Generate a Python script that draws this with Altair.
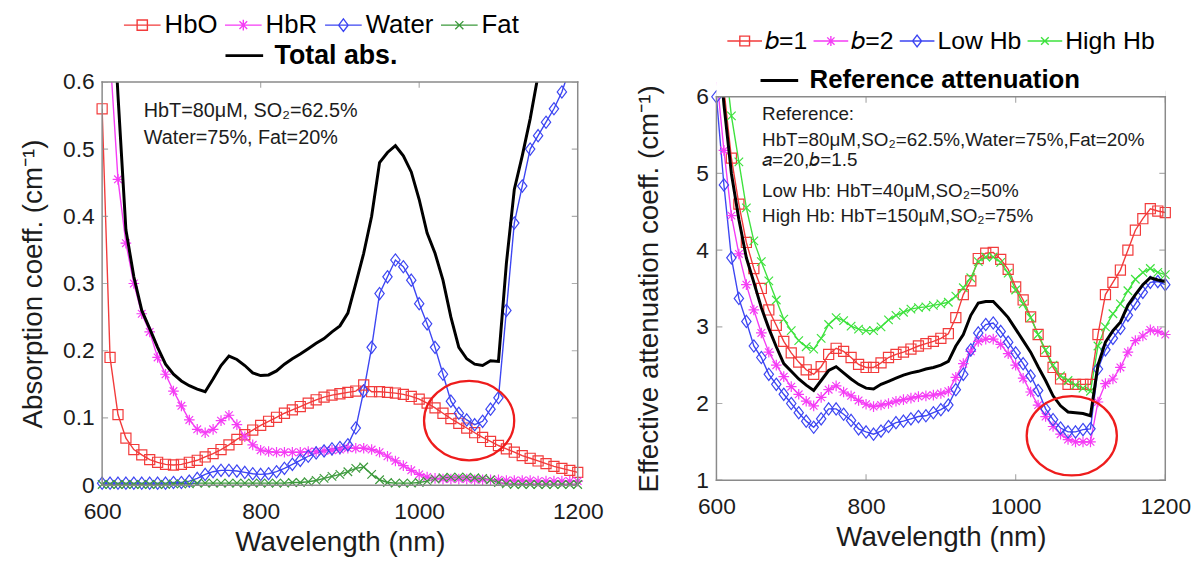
import altair as alt
import pandas as pd

# ---------------- data ----------------
WL = list(range(600, 1201, 10))

HBO = [0.56, 0.19, 0.105, 0.07, 0.053, 0.045, 0.038, 0.034, 0.031, 0.030,
       0.031, 0.034, 0.037, 0.042, 0.047, 0.053, 0.060, 0.068, 0.075, 0.082,
       0.089, 0.095, 0.101, 0.107, 0.112, 0.117, 0.122, 0.127, 0.131, 0.134,
       0.136, 0.138, 0.140, 0.149, 0.139, 0.139, 0.138, 0.137, 0.135, 0.132,
       0.128, 0.122, 0.115, 0.107, 0.099, 0.092, 0.085, 0.078, 0.071, 0.065,
       0.059, 0.054, 0.049, 0.044, 0.040, 0.036, 0.032, 0.028, 0.025, 0.022, 0.019]
HBR = [0.95, 0.64, 0.455, 0.36, 0.30, 0.255, 0.228, 0.19, 0.165, 0.14,
       0.118, 0.097, 0.083, 0.078, 0.083, 0.096, 0.104, 0.090, 0.072, 0.060,
       0.052, 0.050, 0.049, 0.049, 0.049, 0.049, 0.050, 0.050, 0.051, 0.052,
       0.053, 0.055, 0.055, 0.055, 0.053, 0.049, 0.043, 0.036, 0.029, 0.022,
       0.016, 0.012, 0.010, 0.009, 0.009, 0.009, 0.009, 0.008, 0.008, 0.008,
       0.008, 0.007, 0.007, 0.007, 0.007, 0.006, 0.006, 0.006, 0.006, 0.006, 0.006]
WATER = [0.003, 0.003, 0.003, 0.003, 0.003, 0.003, 0.003, 0.003, 0.003, 0.004,
         0.004, 0.006, 0.010, 0.016, 0.020, 0.022, 0.022, 0.021, 0.019, 0.017,
         0.016, 0.017, 0.020, 0.025, 0.031, 0.037, 0.043, 0.048, 0.051, 0.054,
         0.056, 0.060, 0.085, 0.14, 0.205, 0.285, 0.31, 0.335, 0.325, 0.305,
         0.27, 0.24, 0.205, 0.165, 0.125, 0.107, 0.097, 0.09, 0.095, 0.113,
         0.13, 0.26, 0.39, 0.445, 0.50, 0.52, 0.54, 0.56, 0.585, 0.62, 0.66]
FAT = [0.001, 0.001, 0.001, 0.001, 0.001, 0.001, 0.001, 0.001, 0.001, 0.002,
       0.002, 0.002, 0.003, 0.003, 0.003, 0.003, 0.003, 0.003, 0.003, 0.003,
       0.003, 0.003, 0.003, 0.003, 0.004, 0.004, 0.005, 0.007, 0.010, 0.013,
       0.016, 0.020, 0.025, 0.027, 0.016, 0.008, 0.004, 0.003, 0.003, 0.003,
       0.004, 0.006, 0.009, 0.011, 0.012, 0.012, 0.012, 0.011, 0.010, 0.008,
       0.004, 0.002, 0.001, 0.001, 0.001, 0.001, 0.001, 0.001, 0.001, 0.001, 0.001]
TOTAL = [1.0, 0.8, 0.58, 0.38, 0.31, 0.26, 0.233, 0.205, 0.18, 0.165,
         0.155, 0.148, 0.143, 0.139, 0.158, 0.178, 0.192, 0.187, 0.178, 0.167,
         0.163, 0.164, 0.170, 0.180, 0.188, 0.195, 0.203, 0.211, 0.218, 0.228,
         0.237, 0.256, 0.30, 0.345, 0.40, 0.48, 0.495, 0.505, 0.49, 0.466,
         0.425, 0.375, 0.345, 0.305, 0.25, 0.205, 0.188, 0.180, 0.178, 0.185,
         0.184, 0.33, 0.44, 0.49, 0.545, 0.61, 0.70, 0.75, 0.80, 0.85, 0.90]

B1 = [7.5, 6.1, 5.2, 4.6, 4.1, 3.76, 3.5, 3.22, 3.02, 2.81,
      2.66, 2.54, 2.44, 2.38, 2.48, 2.64, 2.72, 2.68, 2.6, 2.51,
      2.47, 2.47, 2.53, 2.6, 2.64, 2.67, 2.71, 2.75, 2.78, 2.81,
      2.85, 2.91, 3.12, 3.42, 3.6, 3.89, 3.96, 3.97, 3.88, 3.75,
      3.52, 3.35, 3.13, 2.9, 2.68, 2.47, 2.32, 2.25, 2.25, 2.25,
      2.25, 2.9, 3.42, 3.58, 3.74, 4.0, 4.26, 4.41, 4.54, 4.51, 4.49]
B2 = [6.3, 5.3, 4.45, 3.95, 3.55, 3.22, 2.92, 2.67, 2.5, 2.35,
      2.22, 2.12, 2.03, 1.97, 2.08, 2.18, 2.23, 2.15, 2.1, 2.04,
      1.99, 1.96, 1.98, 2.0, 2.03, 2.05, 2.07, 2.09, 2.1, 2.11,
      2.13, 2.16, 2.34, 2.52, 2.68, 2.81, 2.84, 2.84, 2.77, 2.65,
      2.5, 2.33, 2.15, 1.98, 1.83, 1.7, 1.6, 1.53, 1.5, 1.5,
      1.5, 2.02, 2.26, 2.32, 2.47, 2.67, 2.82, 2.88, 2.96, 2.94, 2.9]
LOW_HB = [6.0, 4.85, 3.9, 3.37, 3.07, 2.75, 2.6, 2.38, 2.25, 2.12,
          2.0, 1.88, 1.77, 1.69, 1.8, 1.93, 1.93, 1.86, 1.78, 1.67,
          1.63, 1.6, 1.64, 1.7, 1.75, 1.77, 1.8, 1.83, 1.84, 1.88,
          1.92, 1.98, 2.18, 2.38, 2.7, 2.92, 3.03, 3.05, 2.94, 2.8,
          2.66, 2.52, 2.36, 2.17, 1.93, 1.79, 1.68, 1.63, 1.63, 1.66,
          1.67, 2.45, 2.7, 2.85, 2.98, 3.15, 3.3, 3.45, 3.58, 3.59, 3.55]
HIGH_HB = [8.0, 6.6, 5.75, 5.15, 4.55, 4.12, 3.85, 3.6, 3.35, 3.1,
           2.95, 2.82, 2.74, 2.71, 2.85, 3.03, 3.12, 3.08, 3.01, 2.97,
           2.95, 2.95, 3.0, 3.09, 3.15, 3.19, 3.23, 3.25, 3.26, 3.28,
           3.3, 3.32, 3.4, 3.51, 3.64, 3.85, 3.91, 3.91, 3.84, 3.7,
           3.48, 3.3, 3.12, 2.9, 2.7, 2.5, 2.36, 2.3, 2.24, 2.2,
           2.16, 2.75, 3.0, 3.17, 3.3, 3.47, 3.62, 3.71, 3.76, 3.71, 3.68]
REF = [7.0, 5.9, 5.0, 4.4, 3.9, 3.58, 3.25, 2.98, 2.74, 2.52,
       2.42, 2.32, 2.24, 2.17, 2.3, 2.43, 2.48, 2.4, 2.32, 2.25,
       2.2, 2.19, 2.25, 2.29, 2.33, 2.37, 2.4, 2.42, 2.45, 2.47,
       2.5, 2.55, 2.75, 2.9, 3.15, 3.31, 3.33, 3.33, 3.23, 3.12,
       2.97, 2.82, 2.67, 2.48, 2.3, 2.1, 1.97, 1.89, 1.88, 1.87,
       1.84, 2.5, 2.8, 2.95, 3.06, 3.28, 3.42, 3.55, 3.64, 3.61, 3.59]

X_TICKS = [600, 800, 1000, 1200]
XLIM = [600, 1200]
LEFT_Y_TICKS = [0, 0.1, 0.2, 0.3, 0.4, 0.5, 0.6]
LEFT_YLIM = [0, 0.6]
RIGHT_Y_TICKS = [1, 2, 3, 4, 5, 6]
RIGHT_YLIM = [1, 6]

LEFT_NAMES = ["HbO", "HbR", "Water", "Fat"]
RIGHT_NAMES = ["\U0001D44F=1", "\U0001D44F=2", "Low Hb", "High Hb"]
LEFT_TOTAL = "Total abs."
RIGHT_TOTAL = "Reference attenuation"

LEFT_NOTES = ["HbT=80\u03bcM, SO\u2082=62.5%", "Water=75%, Fat=20%"]
LEFT_NOTE_X = [652.5, 652.5]
LEFT_NOTE_Y = [0.556, 0.516]
RIGHT_NOTES = ["Reference:",
               "HbT=80\u03bcM,SO\u2082=62.5%,Water=75%,Fat=20%",
               "\U0001D44E=20,\U0001D44F=1.5",
               "Low Hb: HbT=40\u03bcM,SO\u2082=50%",
               "High Hb: HbT=150\u03bcM,SO\u2082=75%"]
RIGHT_NOTE_X = [661, 661, 661, 661, 661]
RIGHT_NOTE_Y = [5.78, 5.44, 5.18, 4.77, 4.45]

LEFT_CIRCLE_X, LEFT_CIRCLE_Y = [1063], [0.096]
RIGHT_CIRCLE_X, RIGHT_CIRCLE_Y = [1075], [1.58]

# ---------------- style ----------------
FONT = "Liberation Sans"
RED, MAG, BLUE = "#f23b3b", "#f53df5", "#3d46f2"
DGREEN, LGREEN = "#3d9a3d", "#3ee23e"
GRAY = "#8a8a8a"
TXT = "#1c1c1c"

SQUARE = "M-0.95,-0.95H0.95V0.95H-0.95Z"
STAR = "M-1,0H1M0,-1V1M-0.72,-0.72L0.72,0.72M-0.72,0.72L0.72,-0.72"
DIAMOND = "M0,-1.15L0.88,0L0,1.15L-0.88,0Z"
XMARK = "M-0.8,-0.8L0.8,0.8M-0.8,0.8L0.8,-0.8"
MARKERS = [SQUARE, STAR, DIAMOND, XMARK]
L_SQUARE = "M-1,0H1M-0.28,-0.28H0.28V0.28H-0.28Z"
L_STAR = "M-1,0H1M0,-0.29V0.29M-0.21,-0.21L0.21,0.21M-0.21,0.21L0.21,-0.21"
L_DIAMOND = "M-1,0H1M0,-0.34L0.26,0L0,0.34L-0.26,0Z"
L_X = "M-1,0H1M-0.22,-0.22L0.22,0.22M-0.22,0.22L0.22,-0.22"
LEG_MARKERS = [L_SQUARE, L_STAR, L_DIAMOND, L_X]
ELLIPSE = "M-1,0A1,0.88 0 1 1 1,0A1,0.88 0 1 1 -1,0Z"


def panel(names, arrays, colors, total_label, total_vals, ylim, yticks, yfmt,
          W, H, top_gap, ytitle, title_x, notes, note_x, note_y, note_size,
          cx, cy, leg1, leg2, leg1_style, leg2_font):
    rows = []
    for n, arr in zip(names, arrays):
        for w, v in zip(WL, arr):
            rows.append({"wl": w, "v": v, "series": n})
    data = pd.DataFrame(rows)
    tot = pd.DataFrame({"wl": WL, "v": total_vals, "label": total_label})

    ytop = ylim[1] + (ylim[1] - ylim[0]) * top_gap / (H - top_gap)
    XS = alt.Scale(domain=XLIM, nice=False, zero=False)
    YS = alt.Scale(domain=[ylim[0], ytop], nice=False, zero=False)
    XA = alt.Axis(values=X_TICKS, format="d", title="Wavelength (nm)",
                  labelFlush=False, labelOverlap=False, ticks=False, tickSize=0,
                  domain=False, grid=False, labelPadding=16, titlePadding=5)
    YA = alt.Axis(values=yticks, format=yfmt, title=ytitle, labelOverlap=False,
                  ticks=False, tickSize=0, domain=False, grid=False,
                  labelPadding=8, titleX=title_x, titleY=(top_gap + H) / 2,
                  titleBaseline="middle")

    def X(f):
        return alt.X(f"{f}:Q", scale=XS, axis=XA)

    def Y(f):
        return alt.Y(f"{f}:Q", scale=YS, axis=YA)

    col = alt.Color("series:N", scale=alt.Scale(domain=names, range=colors), legend=None)

    lines = alt.Chart(data).mark_line(clip=True, strokeWidth=1.4).encode(
        x=X("wl"), y=Y("v"), color=col)
    pts = alt.Chart(data).transform_filter(
        f"datum.v >= {ylim[0]} && datum.v <= {ylim[1]}"
    ).mark_point(filled=False, size=115, strokeWidth=1.2, opacity=1).encode(
        x=X("wl"), y=Y("v"), color=col,
        shape=alt.Shape("series:N", scale=alt.Scale(domain=names, range=MARKERS), legend=None))
    total = alt.Chart(tot).mark_line(clip=True, strokeWidth=3).encode(
        x=X("wl"), y=Y("v"),
        color=alt.Color("label:N", scale=alt.Scale(domain=[total_label], range=["#000000"]),
                        legend=alt.Legend(title=None, orient="none", legendX=leg2[0], legendY=leg2[1],
                                          direction="horizontal", symbolType="stroke",
                                          symbolSize=1444, symbolStrokeWidth=3,
                                          labelFontSize=leg2_font, labelFont=FONT,
                                          labelFontWeight="bold",
                                          labelColor="#000000", labelOffset=10, padding=0,
                                          labelLimit=500)))
    sym, loff, cpad, lfont = leg1_style
    L1 = alt.Legend(title=None, orient="none", legendX=leg1[0], legendY=leg1[1],
                    direction="horizontal", columns=4, symbolSize=sym,
                    symbolStrokeWidth=1.4, labelFontSize=lfont, labelFont=FONT,
                    labelColor="#000000", labelOffset=loff, columnPadding=cpad, padding=0,
                    labelLimit=500, symbolOpacity=1)
    legend_only = alt.Chart(data).transform_filter("false").mark_point(
        filled=False, strokeWidth=1.4).encode(
        x=X("wl"), y=Y("v"),
        color=alt.Color("series:N", scale=alt.Scale(domain=names, range=colors), legend=L1),
        shape=alt.Shape("series:N", scale=alt.Scale(domain=names, range=LEG_MARKERS), legend=L1))

    ytick_df = pd.DataFrame([{"x": xx, "y": t} for t in yticks for xx in XLIM])
    xtick_df = pd.DataFrame([{"x": t, "y": yy} for t in X_TICKS for yy in ylim])
    yt = alt.Chart(ytick_df).mark_tick(orient="horizontal", size=12, thickness=1.2,
                                      clip=True, color=GRAY).encode(x=X("x"), y=Y("y"))
    xt = alt.Chart(xtick_df).mark_tick(orient="vertical", size=12, thickness=1.2,
                                      clip=True, color=GRAY).encode(x=X("x"), y=Y("y"))
    mask = alt.Chart(pd.DataFrame({"y": [ylim[1]]})).mark_rect(color="white").encode(
        x=alt.value(0), x2=alt.value(W), y=Y("y"), y2=alt.value(0))
    box_df = pd.DataFrame([
        {"x": XLIM[0], "x2": XLIM[0], "y": ylim[0], "y2": ylim[1]},
        {"x": XLIM[1], "x2": XLIM[1], "y": ylim[0], "y2": ylim[1]},
        {"x": XLIM[0], "x2": XLIM[1], "y": ylim[0], "y2": ylim[0]},
        {"x": XLIM[0], "x2": XLIM[1], "y": ylim[1], "y2": ylim[1]},
    ])
    box = alt.Chart(box_df).mark_rule(color=GRAY, strokeWidth=1.5, strokeCap="square").encode(
        x=X("x"), x2="x2:Q", y=Y("y"), y2="y2:Q")
    note_df = pd.DataFrame({"x": note_x, "y": note_y, "t": notes})
    txt = alt.Chart(note_df).mark_text(align="left", baseline="middle", font=FONT,
                                       fontSize=note_size, color=TXT).encode(
        x=X("x"), y=Y("y"), text="t:N")
    circ = alt.Chart(pd.DataFrame({"x": cx, "y": cy})).mark_point(
        shape=ELLIPSE, size=8281, filled=False, color="#ee1c1c", strokeWidth=2.3,
        opacity=1).encode(x=X("x"), y=Y("y"))

    layers = [lines, pts, total, yt, xt]
    if top_gap > 0:
        layers.append(mask)
    layers += [box, txt, circ, legend_only]
    return alt.layer(*layers).resolve_scale(color="independent", shape="independent").properties(
        width=W, height=H)


left = panel(LEFT_NAMES, [HBO, HBR, WATER, FAT], [RED, MAG, BLUE, DGREEN], LEFT_TOTAL, TOTAL,
             LEFT_YLIM, LEFT_Y_TICKS, "~g", 480, 407, 0,
             "Absorption coeff. (cm\u207b\u00b9)", -69,
             LEFT_NOTES, LEFT_NOTE_X, LEFT_NOTE_Y, 20,
             LEFT_CIRCLE_X, LEFT_CIRCLE_Y, (21, -77), (123, -47),
             (1369, 3, 4, 26), 27)
right = panel(RIGHT_NAMES, [B1, B2, LOW_HB, HIGH_HB], [RED, MAG, BLUE, LGREEN], RIGHT_TOTAL, REF,
              RIGHT_YLIM, RIGHT_Y_TICKS, "d", 453, 402, 15,
              "Effective attenuation coeff. (cm\u207b\u00b9)", -67,
              RIGHT_NOTES, RIGHT_NOTE_X, RIGHT_NOTE_Y, 19,
              RIGHT_CIRCLE_X, RIGHT_CIRCLE_Y, (10, -60), (43, -22),
              (1225, 2, 3, 25), 26)

chart = alt.hconcat(left, right, spacing=140, bounds="flush").properties(
    padding={"left": 12, "top": -5, "right": 5, "bottom": 5},
    background="white"
).configure_view(strokeWidth=0).configure_axis(
    labelFont=FONT, titleFont=FONT, labelFontSize=23, titleFontSize=28,
    titleFontWeight="normal", labelColor=TXT, titleColor=TXT
)

chart.save("out.html", embed_options={"renderer": "svg", "actions": False})
